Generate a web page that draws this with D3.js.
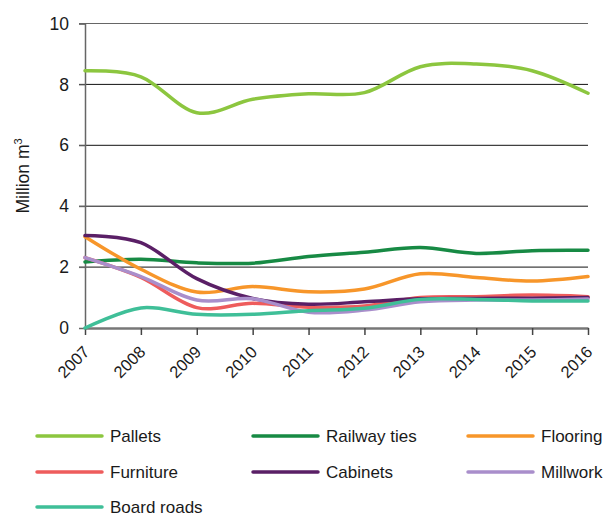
<!DOCTYPE html>
<html>
<head>
<meta charset="utf-8">
<script src="https://cdn.jsdelivr.net/npm/d3@7"></script>
<style>
  body { margin: 0; background: #fff; }
  text { font-family: "Liberation Sans", Arial, sans-serif; fill: #1a1a1a; }
</style>
</head>
<body>
<div id="chart"></div>
<script>
var years = [2007, 2008, 2009, 2010, 2011, 2012, 2013, 2014, 2015, 2016];
var yTicks = [0, 2, 4, 6, 8, 10];

var pallets     = [8.45, 8.25, 7.07, 7.51, 7.69, 7.73, 8.58, 8.67, 8.45, 7.71];
var railwayTies = [2.17, 2.26, 2.14, 2.13, 2.35, 2.49, 2.64, 2.45, 2.54, 2.55];
var flooring    = [3.00, 1.93, 1.18, 1.36, 1.19, 1.28, 1.78, 1.66, 1.54, 1.69];
var furniture   = [2.31, 1.66, 0.67, 0.81, 0.68, 0.72, 1.00, 1.03, 1.08, 1.03];
var cabinets    = [3.04, 2.80, 1.62, 0.97, 0.78, 0.86, 0.96, 0.97, 0.98, 1.00];
var millwork    = [2.31, 1.69, 0.92, 0.96, 0.52, 0.59, 0.86, 0.92, 0.92, 0.95];
var boardRoads  = [0.00, 0.66, 0.45, 0.45, 0.57, 0.65, 0.94, 0.94, 0.89, 0.89];

var seriesNames = ["Pallets", "Railway ties", "Flooring", "Furniture", "Cabinets", "Millwork", "Board roads"];
var seriesValues = [pallets, railwayTies, flooring, furniture, cabinets, millwork, boardRoads];
var seriesColors = ["#8cc63f", "#178a44", "#f7962a", "#ee5c5c", "#5a1f66", "#a98ecb", "#3fbf98"];

var w = 604, h = 516;
var svg = d3.select("#chart").append("svg").attr("width", w).attr("height", h);

var x = d3.scaleLinear().domain([2007, 2016]).range([85, 588]);
var y = d3.scaleLinear().domain([0, 10]).range([328, 23.5]);

// gridlines
svg.append("g").selectAll("line")
  .data(yTicks.filter(d => d > 0))
  .join("line")
  .attr("x1", 79).attr("x2", 588)
  .attr("y1", d => y(d)).attr("y2", d => y(d))
  .attr("stroke", d => d == 10 ? "#666" : "#111")
  .attr("stroke-width", 1);

// y axis
var yAxis = svg.append("g").attr("transform", "translate(85,0)")
  .call(d3.axisLeft(y).tickValues(yTicks).tickSize(6).tickPadding(10));
yAxis.select(".domain").attr("stroke", "#666").attr("stroke-width", 1.5);
yAxis.selectAll(".tick line").attr("stroke", "#666");
yAxis.selectAll(".tick text").style("font-size", "17.5px").attr("fill", "#1a1a1a")
  .attr("font-family", "Liberation Sans, Arial, sans-serif");

// x axis
var xAxis = svg.append("g").attr("transform", "translate(0," + y(0) + ")")
  .call(d3.axisBottom(x).tickValues(years).tickFormat(d3.format("d")).tickSize(7).tickSizeOuter(0));
xAxis.select(".domain").attr("stroke", "#777").attr("stroke-width", 2.5);
xAxis.selectAll(".tick line").attr("stroke", "#444").attr("stroke-width", 1.5);
xAxis.selectAll(".tick text")
  .style("font-size", "16.5px").attr("fill", "#1a1a1a")
  .attr("font-family", "Liberation Sans, Arial, sans-serif")
  .attr("text-anchor", "end")
  .attr("y", 0)
  .attr("dy", null)
  .attr("transform", "translate(5,25) rotate(-45)");

// y label
var ylab = svg.append("text")
  .attr("transform", "translate(29,176) rotate(-90)")
  .attr("text-anchor", "middle")
  .style("font-size", "17.5px");
ylab.append("tspan").text("Million m");
ylab.append("tspan").text("3").style("font-size", "11px").attr("dy", -7);

// lines
var line = d3.line()
  .x((d, i) => x(years[i]))
  .y(d => y(d))
  .curve(d3.curveCatmullRom.alpha(0));

svg.append("g").selectAll("path")
  .data(seriesValues)
  .join("path")
  .attr("d", line)
  .attr("fill", "none")
  .attr("stroke", (d, i) => seriesColors[i])
  .attr("stroke-width", 3.5)
  .attr("stroke-linecap", "round");

// legend
var legX = [37, 253, 468];
var legY = [436, 472, 507];
var leg = svg.append("g").selectAll("g")
  .data(seriesNames)
  .join("g")
  .attr("transform", (d, i) => "translate(" + legX[i % 3] + "," + legY[Math.floor(i / 3)] + ")");
leg.append("line")
  .attr("x1", 0).attr("x2", 65)
  .attr("stroke", (d, i) => seriesColors[i])
  .attr("stroke-width", 3.5)
  .attr("stroke-linecap", "round");
leg.append("text")
  .attr("x", 73).attr("dy", "0.35em")
  .style("font-size", "17px")
  .text(d => d);
</script>
</body>
</html>
